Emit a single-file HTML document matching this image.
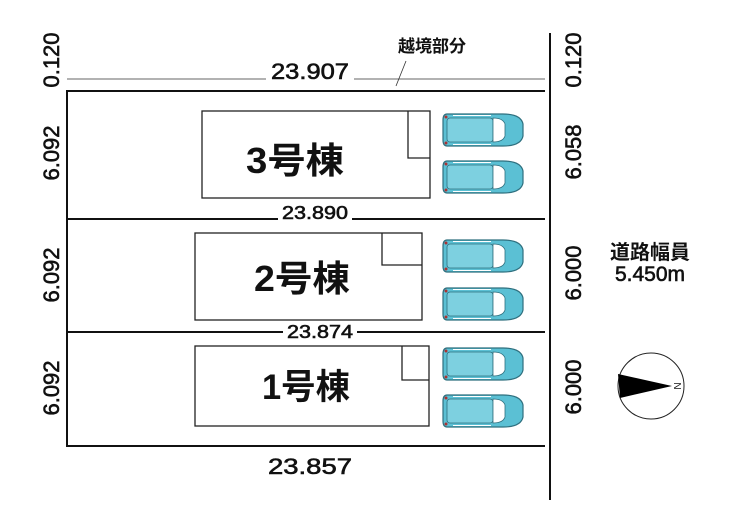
<!DOCTYPE html>
<html><head><meta charset="utf-8"><style>
html,body{margin:0;padding:0;background:#fff;}
svg{display:block;}
text{font-family:"Liberation Sans","Noto Sans CJK JP",sans-serif;fill:#111;}
.n{stroke:#111;stroke-width:0.6;}
</style></head><body>
<svg width="740" height="524" viewBox="0 0 740 524" xmlns="http://www.w3.org/2000/svg">
<defs>
<g id="car">
  <path d="M4,2 H60 Q78,2 80,12 V24 Q78,34 60,34 H4 Q0,34 0,28 V8 Q0,2 4,2 Z" fill="#5bc0d4" stroke="#2e6f7e" stroke-width="1.2"/>
  <rect x="4" y="6" width="46" height="24" rx="3" fill="#7dd0e0" stroke="#2e6f7e" stroke-width="0.8"/>
  <path d="M50,6 Q60,6 62,12 V24 Q60,30 50,30 Z" fill="#fff" stroke="#2e6f7e" stroke-width="0.8"/>
  <line x1="10" y1="3.5" x2="48" y2="3.5" stroke="#fff" stroke-width="1"/>
  <line x1="10" y1="32.5" x2="48" y2="32.5" stroke="#fff" stroke-width="1"/>
  <circle cx="3" cy="5" r="1.5" fill="#a33"/><circle cx="3" cy="31" r="1.5" fill="#a33"/>
</g>
</defs>
<line x1="67" y1="79" x2="545" y2="79" stroke="#333" stroke-width="0.8"/>
<rect x="266" y="60" width="88" height="22" fill="#fff"/>
<text class="n" x="310" y="79" font-size="22" text-anchor="middle" textLength="78" lengthAdjust="spacingAndGlyphs">23.907</text>
<text x="432" y="52" font-size="17" font-weight="bold" text-anchor="middle">越境部分</text>
<line x1="406" y1="61" x2="396" y2="86" stroke="#333" stroke-width="0.8"/>
<g stroke="#111" stroke-width="2" fill="none">
<polyline points="545,91 67,91 67,446 545,446"/>
<line x1="67" y1="219" x2="545" y2="219"/>
<line x1="67" y1="332" x2="545" y2="332"/>
<line x1="550" y1="33" x2="550" y2="500"/>
</g>
<g stroke="#222" stroke-width="1.3" fill="#fff">
<rect x="202" y="111" width="228" height="87"/>
<polyline points="408,111 408,158 430,158" fill="none"/>
<rect x="195" y="233" width="227" height="87"/>
<polyline points="382,233 382,265 422,265" fill="none"/>
<rect x="195" y="346" width="234" height="80"/>
<polyline points="402,346 402,380 429,380" fill="none"/>
</g>
<text x="295" y="173" font-size="36" font-weight="bold" text-anchor="middle" textLength="98" lengthAdjust="spacingAndGlyphs">3号棟</text>
<text x="302" y="291" font-size="36" font-weight="bold" text-anchor="middle" textLength="96" lengthAdjust="spacingAndGlyphs">2号棟</text>
<text x="306" y="399" font-size="35" font-weight="bold" text-anchor="middle" textLength="88" lengthAdjust="spacingAndGlyphs">1号棟</text>
<rect x="278" y="204" width="74" height="20" fill="#fff"/>
<text class="n" x="315" y="219" font-size="18" text-anchor="middle" textLength="66" lengthAdjust="spacingAndGlyphs">23.890</text>
<rect x="283" y="323" width="74" height="18" fill="#fff"/>
<text class="n" x="320" y="338" font-size="18" text-anchor="middle" textLength="66" lengthAdjust="spacingAndGlyphs">23.874</text>
<text class="n" x="310" y="474" font-size="22" text-anchor="middle" textLength="84" lengthAdjust="spacingAndGlyphs">23.857</text>
<use href="#car" x="443" y="112"/>
<use href="#car" x="443" y="159"/>
<use href="#car" x="443" y="238"/>
<use href="#car" x="443" y="286"/>
<use href="#car" x="443" y="346"/>
<use href="#car" x="443" y="393"/>
<g font-size="22" text-anchor="middle" class="n">
<text transform="translate(59,60) rotate(-90)">0.120</text>
<text transform="translate(59,153) rotate(-90)">6.092</text>
<text transform="translate(59,275) rotate(-90)">6.092</text>
<text transform="translate(59,388) rotate(-90)">6.092</text>
<text transform="translate(581,60) rotate(-90)">0.120</text>
<text transform="translate(581,152) rotate(-90)">6.058</text>
<text transform="translate(581,273) rotate(-90)">6.000</text>
<text transform="translate(581,387) rotate(-90)">6.000</text>
</g>
<text x="650" y="259" font-size="20" font-weight="bold" text-anchor="middle">道路幅員</text>
<text class="n" x="650" y="281" font-size="21" text-anchor="middle">5.450m</text>
<circle cx="651" cy="386" r="33" fill="#fff" stroke="#222" stroke-width="1"/>
<polygon points="618,374 672,386 620,398" fill="#000"/>
<text x="677" y="386" font-size="10" text-anchor="middle" transform="rotate(90 677 386)" dy="3">N</text>
</svg>
</body></html>
